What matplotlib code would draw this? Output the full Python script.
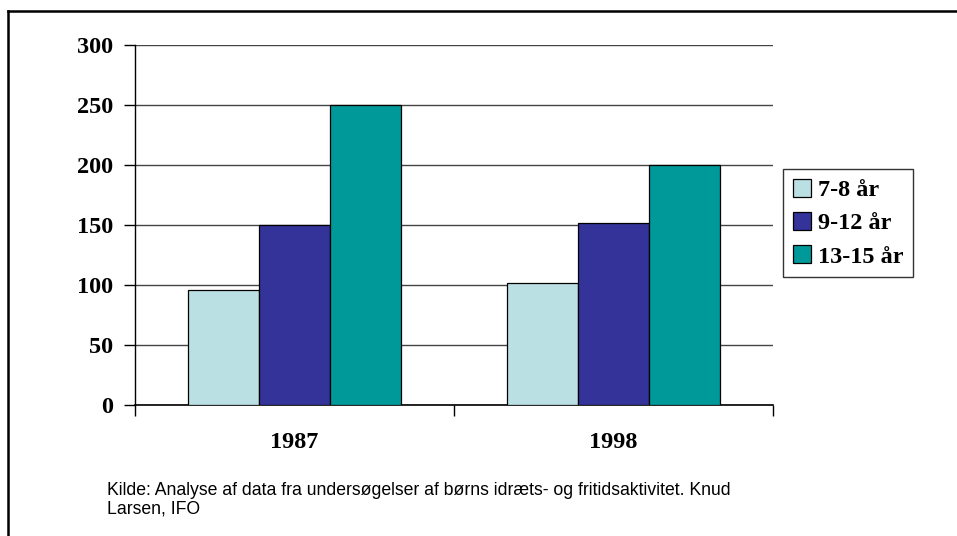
import matplotlib.pyplot as plt
from matplotlib.lines import Line2D
import numpy as np

# Data
years = ['1987', '1998']
age_groups = ['7-8 år', '9-12 år', '13-15 år']
vals_7_8 = [96, 102]
vals_9_12 = [150, 152]
vals_13_15 = [250, 200]
colors = ['#BBE0E3', '#333399', '#009999']
y_ticks = [0, 50, 100, 150, 200, 250, 300]
source = ('Kilde: Analyse af data fra undersøgelser af børns idræts- og fritidsaktivitet. Knud\n'
          'Larsen, IFO')

W, H = 957, 536
fig = plt.figure(figsize=(W / 100, H / 100), dpi=100)
ax = fig.add_axes([135 / W, 1 - 405 / H, (773 - 135) / W, (405 - 45) / H])

serif = ['Liberation Serif', 'DejaVu Serif']
x = np.arange(len(years))
w = 1 / 4.5
series = [vals_7_8, vals_9_12, vals_13_15]
for i, (vals, c, lab) in enumerate(zip(series, colors, age_groups)):
    ax.bar(x + (i - 1) * w, vals, width=w, color=c, edgecolor='black',
           linewidth=0.9, label=lab, zorder=3)

ax.set_xlim(-0.5, 1.5)
ax.set_ylim(0, 300)
ax.set_yticks(y_ticks)
ax.set_yticklabels([str(t) for t in y_ticks], fontfamily=serif,
                   fontweight='bold', fontsize=17.5)
ax.yaxis.grid(True, color='#444444', linewidth=1, zorder=0)
ax.set_axisbelow(True)

# category labels, with ticks at category boundaries
ax.set_xticks([-0.5, 0.5, 1.5])
ax.set_xticklabels([])
ax.tick_params(axis='x', direction='out', length=8, width=1)
ax.tick_params(axis='y', direction='out', length=8, width=1, pad=8)
for xi, yr in zip(x, years):
    ax.text(xi, -0.105, yr, transform=ax.get_xaxis_transform(),
            ha='center', va='center', fontfamily=serif,
            fontweight='bold', fontsize=17.5)

for s in ['top', 'right']:
    ax.spines[s].set_visible(False)
ax.spines['left'].set_linewidth(1)
ax.spines['bottom'].set_linewidth(1.2)

leg = fig.legend(loc='upper left', bbox_to_anchor=(783 / W, 1 - 169 / H),
                 prop={'family': serif, 'weight': 'bold', 'size': 17.5},
                 frameon=True, fancybox=False, edgecolor='black',
                 handlelength=0.75, handleheight=0.75, handletextpad=0.3,
                 borderpad=0.4, labelspacing=0.45, borderaxespad=0)
leg.get_frame().set_linewidth(1)

fig.text(107 / W, 1 - 500 / H, source, fontfamily='Liberation Sans',
         fontsize=12.7, va='center', ha='left', linespacing=1.15)

# outer border (top and left visible)
fig.add_artist(Line2D([8 / W, 8 / W], [0, 1 - 11 / H], color='black',
                      linewidth=1.8, transform=fig.transFigure))
fig.add_artist(Line2D([8 / W, 1], [1 - 11 / H, 1 - 11 / H], color='black',
                      linewidth=1.8, transform=fig.transFigure))

fig.savefig('out.png', dpi=100)
